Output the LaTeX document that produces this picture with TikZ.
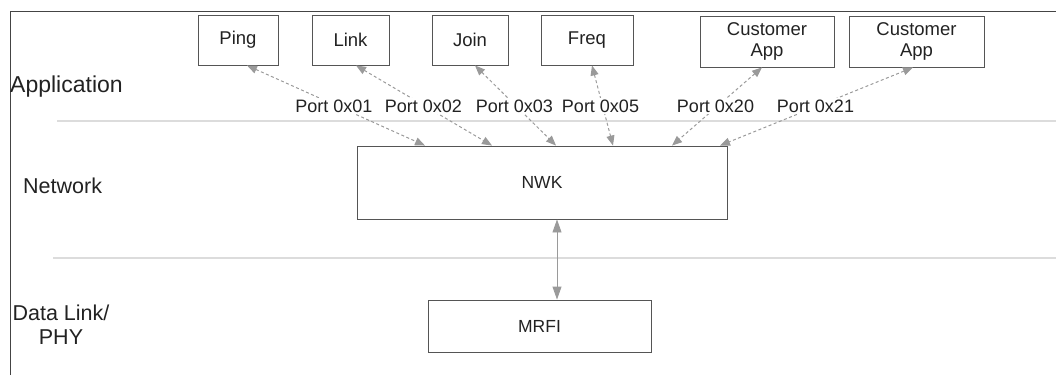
\documentclass[tikz,border=0pt]{standalone}
\usepackage{fontspec}
\setmainfont{Liberation Sans}
\usetikzlibrary{arrows.meta}
\definecolor{boxline}{HTML}{555555}
\definecolor{txt}{HTML}{222222}
\definecolor{link}{HTML}{9A9A9A}
\definecolor{sep}{HTML}{DCDCDC}
\definecolor{frame}{HTML}{444444}
\tikzset{
  appbox/.style={draw=boxline, line width=0.9pt, text=txt, inner sep=0pt,
    minimum height=50pt, align=center, font=\fontsize{18.5}{21.5}\selectfont},
  layerbox/.style={draw=boxline, line width=0.9pt, text=txt, inner sep=0pt,
    font=\fontsize{17.5}{21}\selectfont},
  layerlabel/.style={text=txt, inner sep=0pt, align=center,
    font=\fontsize{21.5}{24}\selectfont},
  portlabel/.style={text=txt, fill=white, inner sep=1.5pt,
    font=\fontsize{18}{21}\selectfont},
  portlink/.style={draw=link, line width=1pt, dash pattern=on 3pt off 2.5pt,
    {Triangle[length=10pt,width=8pt]}-{Triangle[length=10pt,width=8pt]}},
  phylink/.style={draw=link, line width=0.9pt, fill=link,
    {Triangle[length=13pt,width=9pt]}-{Triangle[length=13pt,width=9pt]}},
  divider/.style={draw=sep, line width=1.6pt},
}
\begin{document}
\begin{tikzpicture}[x=1pt, y=-1pt]
\useasboundingbox (0,0) rectangle (1056,375);

% outer frame (left and top edges)
\draw[frame, line width=1pt] (10,375) -- (10,11) -- (1056,11);

% layer dividers
\draw[divider] (57,121) -- (1056,121);
\draw[divider] (53,258) -- (1056,258);

% layer names
\node[layerlabel, anchor=west, font=\fontsize{23}{26}\selectfont] (lapp) at (10,87) {Application};
\node[layerlabel, anchor=west] (lnwk) at (23,186) {Network};
\node[layerlabel] (lphy) at (61,325) {Data Link/\\PHY};

% application boxes
\node[appbox, minimum width=80pt] (ping) at (238,40) {Ping};
\node[appbox, minimum width=77pt] (link) at (350.5,40) {Link};
\node[appbox, minimum width=76pt] (join) at (470,40) {Join};
\node[appbox, minimum width=92pt] (freq) at (587,40) {Freq};
\node[appbox, minimum width=134pt, minimum height=51pt] (capa) at (767,41.5) {Customer\\App};
\node[appbox, minimum width=135pt, minimum height=51pt] (capb) at (916.5,41.5) {Customer\\App};

% network and radio interface
\node[layerbox, minimum width=370pt, minimum height=73pt] (nwk) at (542,182.5) {NWK};
\node[layerbox, minimum width=223pt, minimum height=52pt] (mrfi) at (539.5,326) {MRFI};

% port connections
\draw[portlink] ([xshift=9pt]ping.south) -- ([xshift=-117pt]nwk.north);
\draw[portlink] ([xshift=5.5pt]link.south) -- ([xshift=-50pt]nwk.north);
\draw[portlink] ([xshift=5pt]join.south) -- ([xshift=14pt]nwk.north);
\draw[portlink] ([xshift=5pt]freq.south) -- ([xshift=71pt]nwk.north);
\draw[portlink] ([xshift=-5pt]capa.south) -- ([xshift=130pt]nwk.north);
\draw[portlink] ([xshift=-3.5pt]capb.south) -- ([xshift=178pt]nwk.north);

\node[portlabel] (p01) at (334,106) {Port 0x01};
\node[portlabel] (p02) at (423.5,106) {Port 0x02};
\node[portlabel] (p03) at (514.5,106) {Port 0x03};
\node[portlabel] (p05) at (600.5,106) {Port 0x05};
\node[portlabel] (p20) at (715.5,106) {Port 0x20};
\node[portlabel] (p21) at (815.5,106) {Port 0x21};

% NWK <-> MRFI
\draw[phylink] ([xshift=15pt]nwk.south) -- ([xshift=15pt]nwk.south |- mrfi.north);
\end{tikzpicture}
\end{document}
